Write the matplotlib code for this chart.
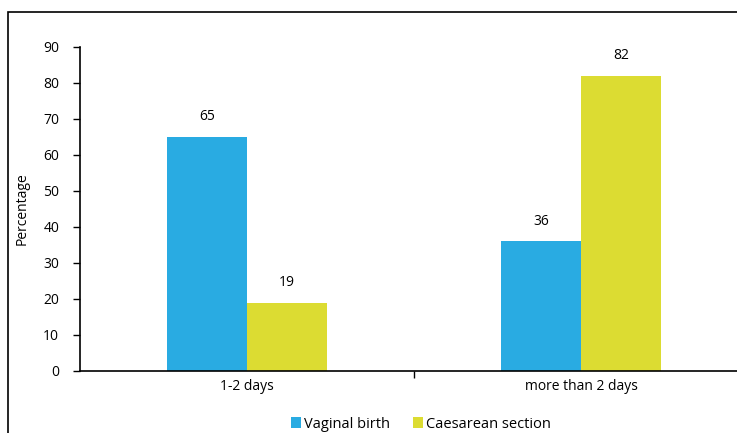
import matplotlib
matplotlib.use("Agg")
import matplotlib.pyplot as plt
from matplotlib.patches import Rectangle
import numpy as np

plt.rcParams['font.family'] = ['Open Sans', 'DejaVu Sans']

categories = ["1-2 days", "more than 2 days"]
series_names = ["Vaginal birth", "Caesarean section"]
vaginal = [65, 36]
caesarean = [19, 82]
colors = ["#29abe2", "#dcdc32"]

W, H = 737, 433
fig = plt.figure(figsize=(W / 100, H / 100), dpi=100)

# outer chart frame (cropped at right and bottom)
fig.patches.append(Rectangle((8 / W, -0.1), 1.2, 1 - 12 / H + 0.1,
                             transform=fig.transFigure, fill=False,
                             edgecolor="black", linewidth=1.2, clip_on=False))

ax = fig.add_axes([80 / W, 1 - 371 / H, 668 / W, (371 - 47) / H])

x = np.arange(len(categories))
width = 0.24
b1 = ax.bar(x - width / 2, vaginal, width, color=colors[0], label=series_names[0])
b2 = ax.bar(x + width / 2, caesarean, width, color=colors[1], label=series_names[1])

fs = 10
for bars in (b1, b2):
    for rect in bars:
        ax.annotate(f"{rect.get_height():.0f}",
                    (rect.get_x() + rect.get_width() / 2, rect.get_height()),
                    xytext=(0, 9), textcoords="offset points",
                    ha="center", va="bottom", fontsize=fs)

ax.set_xlim(-0.5, len(categories) - 0.5)
ax.set_ylim(0, 90)
ax.set_yticks(range(0, 91, 10))
ax.tick_params(axis="y", labelsize=fs, length=5, width=1, direction="out", pad=10)

# category boundary tick on x axis
ax.set_xticks([0.5])
ax.set_xticklabels([""])
ax.tick_params(axis="x", length=5, width=1, direction="out")
for xi, lab in zip(x, categories):
    ax.text(xi, -0.025, lab, transform=ax.get_xaxis_transform(),
            ha="center", va="top", fontsize=fs)

ax.spines["top"].set_visible(False)
ax.spines["right"].set_visible(False)
ax.spines["left"].set_linewidth(1.2)
ax.spines["bottom"].set_linewidth(1.2)

fig.text(22 / W, 1 - 209 / H, "Percentage", rotation=90,
         ha="center", va="center", fontsize=fs)

fig.legend(handles=[b1, b2], loc="center", bbox_to_anchor=(421 / W, 9 / H),
           ncol=2, frameon=False, fontsize=10.5, handlelength=0.7,
           handleheight=0.7, handletextpad=0.2, columnspacing=1.6,
           borderpad=0.1)

fig.savefig("out.png", dpi=100)
